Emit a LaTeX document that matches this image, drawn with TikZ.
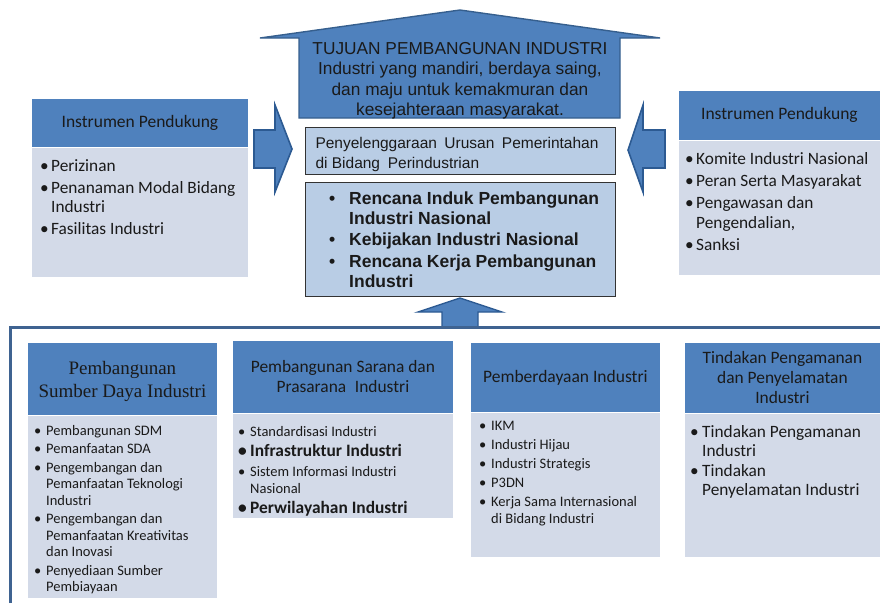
\documentclass[tikz,border=0pt]{standalone}
\usepackage{fontspec}
\setmainfont{Carlito}
\newfontfamily\arialfont{Liberation Sans}
\newfontfamily\serifhead{Liberation Serif}

\definecolor{hdrblue}{HTML}{4F81BD}
\definecolor{bodygrey}{HTML}{D3DAE8}
\definecolor{paleblue}{HTML}{B9CDE5}
\definecolor{edgeblue}{HTML}{2C5A92}
\definecolor{houseedge}{HTML}{365F8E}
\definecolor{frameblue}{HTML}{3F6391}
\definecolor{txt}{HTML}{1A1A1A}

% bullet item with hanging indent, optional indent width
\newcommand{\bitem}[2][10pt]{\par\hangindent=#1\hangafter=1\noindent\hbox to #1{\textbullet\hfil}#2}
% ragged list box: width, space between items, items
\newcommand{\blist}[3]{\begin{minipage}[t]{#1}\raggedright\setlength{\parskip}{#2}#3\par\end{minipage}}

\tikzset{
  hdr/.style={fill=hdrblue, draw=white, line width=0.8pt, anchor=north west, align=center, text=txt, inner sep=2pt},
  bodyrect/.style={fill=bodygrey, draw=white, line width=0.8pt, anchor=north west},
  plainbox/.style={fill=paleblue, draw=black!80, line width=0.8pt, anchor=north west},
  itemlist/.style={anchor=base west, inner sep=0pt, text=txt},
  blockarrow/.style={fill=hdrblue, draw=edgeblue, line width=1.6pt, line join=miter},
  frame/.style={draw=frameblue, line width=3pt},
}

\begin{document}
\begin{tikzpicture}[x=1pt, y=-1pt]
  \useasboundingbox (0,0) rectangle (880,603);

  % tujuan (house shaped arrow)
  \draw[fill=hdrblue, draw=houseedge, line width=1.4pt, line join=miter] (299,118) -- (299,38) -- (260,38) -- (460,10) -- (660,38) -- (620,38) -- (620,118) -- cycle;
  \node[text=txt, align=center, font=\arialfont\fontsize{17.3}{20.5}\selectfont] (tujuan) at (460,81) {TUJUAN PEMBANGUNAN INDUSTRI\\Industri yang mandiri, berdaya saing,\\dan maju untuk kemakmuran dan\\kesejahteraan masyarakat.};

  % middle column
  \node[plainbox, minimum width=310pt, minimum height=47pt] (urusan) at (305,127) {};
  \node[text=txt, align=justify, text width=283pt, inner sep=0pt, font=\arialfont\fontsize{15.5}{20}\selectfont] (urusantxt) at (457,154) {Penyelenggaraan Urusan Pemerintahan\linebreak di Bidang\enspace Perindustrian};
  \node[plainbox, minimum width=310pt, minimum height=114pt] (rencana) at (305,182) {};
  \node[itemlist, font=\arialfont\bfseries\fontsize{17.5}{20}\selectfont] (rencanatxt) at (329,204) {\blist{282pt}{1.5pt}{\bitem[20pt]{Rencana Induk Pembangunan\newline Industri Nasional}\bitem[20pt]{Kebijakan Industri Nasional}\bitem[20pt]{Rencana Kerja Pembangunan\newline Industri}}};

  % instrumen pendukung, left
  \node[hdr, minimum width=217pt, minimum height=49pt, font=\fontsize{17.5}{20}\selectfont] (ipL) at (31,98) {Instrumen Pendukung};
  \node[bodyrect, minimum width=217pt, minimum height=130pt] (ipLbody) at (31,147) {};
  \node[itemlist, font=\fontsize{17.3}{19}\selectfont] (ipLlist) at (40,171.5) {\blist{205pt}{3pt}{\bitem[11pt]{Perizinan}\bitem[11pt]{Penanaman Modal Bidang\newline Industri}\bitem[11pt]{Fasilitas Industri}}};

  % instrumen pendukung, right
  \node[hdr, minimum width=202pt, minimum height=50pt, font=\fontsize{17.5}{20}\selectfont] (ipR) at (678,90) {Instrumen Pendukung};
  \node[bodyrect, minimum width=202pt, minimum height=135pt] (ipRbody) at (678,140) {};
  \node[itemlist, font=\fontsize{17.3}{20}\selectfont] (ipRlist) at (685,164) {\blist{192pt}{2pt}{\bitem[11pt]{Komite Industri Nasional}\bitem[11pt]{Peran Serta Masyarakat}\bitem[11pt]{Pengawasan dan\newline Pengendalian,}\bitem[11pt]{Sanksi}}};

  % side arrows
  \draw[blockarrow] (254,130) -- (275,130) -- (275,105) -- (292,149) -- (275,192) -- (275,168) -- (254,168) -- cycle;
  \draw[blockarrow] (665,130) -- (643,130) -- (643,105) -- (628,150) -- (643,192) -- (643,168) -- (665,168) -- cycle;

  % up arrow and frame of the lower part
  \draw[blockarrow, line width=1.4pt] (442,327) -- (442,312) -- (418,312) -- (460,298) -- (502,312) -- (478,312) -- (478,327);
  \draw[frame] (10,603) -- (10,327) -- (880,327);

  % sumber daya industri
  \node[hdr, minimum width=190pt, minimum height=73pt] (sdi) at (27,342) {};
  \node[text=txt, align=center, font=\serifhead\fontsize{19}{23}\selectfont] (sditxt) at ([yshift=-3pt]sdi.center) {Pembangunan\\Sumber Daya Industri};
  \node[bodyrect, minimum width=190pt, minimum height=183pt] (sdibody) at (27,415) {};
  \node[itemlist, font=\fontsize{14.5}{16.5}\selectfont] (sdilist) at (34,435) {\blist{180pt}{2pt}{\bitem[12pt]{Pembangunan SDM}\bitem[12pt]{Pemanfaatan SDA}\bitem[12pt]{Pengembangan dan\newline Pemanfaatan Teknologi\newline Industri}\bitem[12pt]{Pengembangan dan\newline Pemanfaatan Kreativitas\newline dan Inovasi}\bitem[12pt]{Penyediaan Sumber\newline Pembiayaan}}};

  % sarana dan prasarana
  \node[hdr, minimum width=221pt, minimum height=73pt, font=\fontsize{17.4}{20}\selectfont] (sarana) at (232,340) {Pembangunan Sarana dan\\Prasarana\enspace Industri};
  \node[bodyrect, minimum width=221pt, minimum height=105pt] (saranabody) at (232,413) {};
  \node[itemlist, font=\fontsize{14.5}{17}\selectfont] (saranalist) at (238,436) {\blist{212pt}{3pt}{\bitem[12pt]{Standardisasi Industri}{\fontsize{17.4}{17}\selectfont\bfseries\bitem[12pt]{Infrastruktur Industri}\par}\bitem[12pt]{Sistem Informasi Industri\newline Nasional}{\fontsize{17.4}{17}\selectfont\bfseries\bitem[12pt]{Perwilayahan Industri}\par}}};

  % pemberdayaan
  \node[hdr, minimum width=190pt, minimum height=70pt, font=\fontsize{17.5}{20}\selectfont] (berdaya) at (470,342) {Pemberdayaan Industri};
  \node[bodyrect, minimum width=190pt, minimum height=145pt] (berdayabody) at (470,412) {};
  \node[itemlist, font=\fontsize{14.5}{17}\selectfont] (berdayalist) at (479,430) {\blist{180pt}{2pt}{\bitem[12pt]{IKM}\bitem[12pt]{Industri Hijau}\bitem[12pt]{Industri Strategis}\bitem[12pt]{P3DN}\bitem[12pt]{Kerja Sama Internasional\newline di Bidang Industri}}};

  % pengamanan dan penyelamatan
  \node[hdr, minimum width=196pt, minimum height=71pt, font=\fontsize{17.4}{20}\selectfont] (tindak) at (684,342) {Tindakan Pengamanan\\dan Penyelamatan\\Industri};
  \node[bodyrect, minimum width=196pt, minimum height=144pt] (tindakbody) at (684,413) {};
  \node[itemlist, font=\fontsize{17.3}{19}\selectfont] (tindaklist) at (690,437) {\blist{188pt}{1pt}{\bitem[12pt]{Tindakan Pengamanan\newline Industri}\bitem[12pt]{Tindakan\newline Penyelamatan Industri}}};
\end{tikzpicture}
\end{document}
